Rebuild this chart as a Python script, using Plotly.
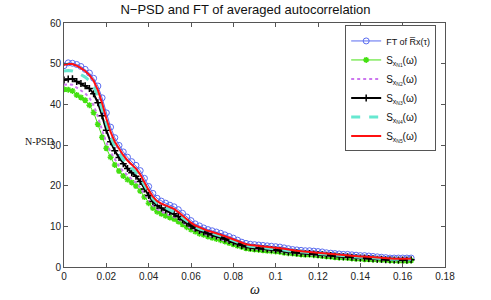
import plotly.graph_objects as go

omega = [round(i * 0.002, 3) for i in range(83)]

ft_rx = [49.5, 50.2, 50.1, 49.8, 49.3, 48.6, 47.7, 46.4, 44.5, 41.6, 37.9, 34.4, 31.8, 29.9, 28.3, 27.0, 25.9, 25.0, 23.7, 21.8, 19.8, 18.1, 16.9, 16.2, 15.7, 15.2, 14.8, 14.1, 13.2, 12.3, 11.4, 10.6, 10.1, 9.6, 9.2, 8.9, 8.6, 8.3, 7.9, 7.5, 7.1, 6.6, 6.1, 5.8, 5.6, 5.5, 5.4, 5.3, 5.2, 5.1, 5.0, 4.9, 4.7, 4.5, 4.3, 4.2, 4.1, 4.0, 4.0, 3.9, 3.8, 3.7, 3.5, 3.4, 3.3, 3.2, 3.1, 3.1, 3.0, 2.9, 2.8, 2.8, 2.7, 2.6, 2.5, 2.4, 2.3, 2.2, 2.2, 2.2, 2.2, 2.2, 2.2]
s_n1 = [43.7, 43.6, 43.3, 42.3, 41.7, 41.0, 39.8, 38.0, 35.1, 31.9, 29.2, 27.0, 25.1, 23.6, 22.4, 21.5, 20.8, 19.9, 18.7, 17.2, 15.7, 14.5, 13.6, 13.1, 12.6, 12.2, 11.8, 11.2, 10.5, 9.8, 9.2, 8.7, 8.2, 7.9, 7.5, 7.2, 6.9, 6.6, 6.3, 5.9, 5.6, 5.2, 4.9, 4.6, 4.4, 4.3, 4.2, 4.1, 4.0, 3.9, 3.8, 3.7, 3.5, 3.4, 3.3, 3.2, 3.1, 3.0, 3.0, 2.9, 2.8, 2.7, 2.6, 2.5, 2.4, 2.3, 2.3, 2.2, 2.1, 2.0, 2.0, 1.9, 1.9, 1.8, 1.8, 1.7, 1.7, 1.6, 1.6, 1.5, 1.5, 1.5, 1.6]
s_n2 = [44.8, 44.9, 44.8, 44.0, 43.4, 42.7, 41.6, 39.8, 37.0, 33.6, 30.6, 28.3, 26.4, 24.8, 23.5, 22.5, 21.6, 20.8, 19.5, 17.9, 16.4, 15.1, 14.2, 13.6, 13.1, 12.7, 12.3, 11.7, 10.9, 10.2, 9.5, 9.0, 8.5, 8.2, 7.8, 7.5, 7.2, 6.9, 6.6, 6.2, 5.8, 5.4, 5.1, 4.8, 4.6, 4.5, 4.4, 4.3, 4.2, 4.1, 4.0, 3.9, 3.7, 3.5, 3.4, 3.3, 3.2, 3.1, 3.1, 3.0, 2.9, 2.8, 2.7, 2.6, 2.5, 2.4, 2.4, 2.3, 2.2, 2.1, 2.1, 2.0, 2.0, 1.9, 1.8, 1.8, 1.7, 1.7, 1.6, 1.6, 1.6, 1.6, 1.7]
s_n3 = [46.0, 46.2, 46.3, 45.6, 45.1, 44.6, 43.9, 42.6, 40.4, 37.2, 33.6, 30.8, 28.6, 26.9, 25.4, 24.2, 23.2, 22.3, 21.0, 19.2, 17.6, 16.1, 15.1, 14.5, 14.0, 13.6, 13.1, 12.4, 11.6, 10.8, 10.1, 9.5, 9.0, 8.6, 8.2, 7.9, 7.6, 7.3, 6.9, 6.5, 6.1, 5.7, 5.3, 5.0, 4.8, 4.7, 4.6, 4.5, 4.4, 4.3, 4.2, 4.1, 3.9, 3.7, 3.6, 3.5, 3.4, 3.3, 3.3, 3.2, 3.1, 3.0, 2.9, 2.8, 2.7, 2.6, 2.5, 2.5, 2.4, 2.3, 2.2, 2.2, 2.1, 2.0, 1.9, 1.9, 1.8, 1.8, 1.7, 1.7, 1.7, 1.7, 1.8]
s_n4 = [48.2, 48.3, 48.2, 47.9, 47.3, 46.7, 45.8, 44.4, 42.2, 38.9, 35.1, 32.0, 29.7, 27.9, 26.4, 25.2, 24.2, 23.3, 22.0, 20.1, 18.3, 16.8, 15.7, 15.1, 14.6, 14.2, 13.7, 13.0, 12.1, 11.3, 10.5, 9.9, 9.4, 9.0, 8.6, 8.3, 8.0, 7.7, 7.3, 6.9, 6.5, 6.0, 5.6, 5.3, 5.1, 5.0, 4.9, 4.8, 4.7, 4.6, 4.5, 4.4, 4.2, 4.0, 3.9, 3.8, 3.7, 3.6, 3.6, 3.5, 3.4, 3.3, 3.1, 3.0, 2.9, 2.8, 2.7, 2.7, 2.6, 2.5, 2.4, 2.4, 2.3, 2.2, 2.1, 2.0, 2.0, 1.9, 1.9, 1.9, 1.9, 1.9, 1.9]
s_n5 = [49.7, 49.9, 49.9, 49.5, 48.9, 48.2, 47.2, 45.8, 43.5, 40.3, 36.5, 33.2, 30.8, 29.0, 27.5, 26.2, 25.1, 24.2, 22.8, 20.8, 18.9, 17.3, 16.2, 15.6, 15.1, 14.7, 14.3, 13.5, 12.6, 11.7, 10.9, 10.2, 9.7, 9.3, 8.9, 8.6, 8.3, 8.0, 7.6, 7.2, 6.8, 6.3, 5.9, 5.6, 5.4, 5.3, 5.2, 5.1, 5.0, 4.9, 4.8, 4.7, 4.5, 4.3, 4.1, 4.0, 3.9, 3.8, 3.8, 3.7, 3.6, 3.5, 3.3, 3.2, 3.1, 3.0, 2.9, 2.9, 2.8, 2.7, 2.6, 2.6, 2.5, 2.4, 2.3, 2.2, 2.1, 2.0, 2.0, 2.0, 2.0, 2.0, 2.0]

x_ticks = [0, 0.02, 0.04, 0.06, 0.08, 0.1, 0.12, 0.14, 0.16, 0.18]
x_tick_labels = ["0", "0.02", "0.04", "0.06", "0.08", "0.1", "0.12", "0.14", "0.16", "0.18"]
y_ticks = [0, 10, 20, 30, 40, 50, 60]

names = ["<span style=\"font-size:9px\">FT of R\u0305x(\u03c4)</span>",
         "S<sub>x<sub>N1</sub></sub>(\u03c9)",
         "S<sub>x<sub>N2</sub></sub>(\u03c9)",
         "S<sub>x<sub>N3</sub></sub>(\u03c9)",
         "S<sub>x<sub>N4</sub></sub>(\u03c9)",
         "S<sub>x<sub>N5</sub></sub>(\u03c9)"]

fig = go.Figure()
fig.add_trace(go.Scatter(x=omega, y=ft_rx, name=names[0], mode="lines+markers",
                         line=dict(color="#5a6cf0", width=1),
                         marker=dict(symbol="circle-open", size=6, color="#5a6cf0", line=dict(width=1))))
fig.add_trace(go.Scatter(x=omega, y=s_n1, name=names[1], mode="lines+markers",
                         line=dict(color="#44e011", width=1),
                         marker=dict(symbol="asterisk-open", size=5, color="#44e011", line=dict(width=1.5, color="#44e011"))))
fig.add_trace(go.Scatter(x=omega, y=s_n2, name=names[2], mode="lines",
                         line=dict(color="#cc77ee", width=2, dash="dot")))
fig.add_trace(go.Scatter(x=omega, y=s_n3, name=names[3], mode="lines+markers",
                         line=dict(color="#000000", width=2),
                         marker=dict(symbol="cross-thin-open", size=5, color="#000000", line=dict(width=1.5, color="#000000"))))
fig.add_trace(go.Scatter(x=omega, y=s_n4, name=names[4], mode="lines",
                         line=dict(color="#66e8d0", width=3, dash="dash")))
fig.add_trace(go.Scatter(x=omega, y=s_n5, name=names[5], mode="lines",
                         line=dict(color="#ff1010", width=2)))

axis_common = dict(showgrid=False, zeroline=False, showline=True, linecolor="#555555", linewidth=1,
                   mirror="ticks", ticks="inside", ticklen=4, tickcolor="#555555",
                   tickfont=dict(family="Liberation Sans, Arial", size=10, color="#222222"))

fig.update_layout(
    width=491, height=300,
    margin=dict(l=64, r=46, t=23, b=33),
    paper_bgcolor="white", plot_bgcolor="white",
    title=dict(text="N\u2212PSD and FT of averaged autocorrelation", x=0.5, xanchor="center",
               y=0.97, yanchor="middle", font=dict(family="Liberation Sans, Arial", size=13, color="#111111")),
    xaxis=dict(range=[0, 0.18], tickvals=x_ticks, ticktext=x_tick_labels, **axis_common),
    yaxis=dict(range=[0, 60], tickvals=y_ticks, **axis_common),
    legend=dict(x=0.738, y=0.99, xanchor="left", yanchor="top", bgcolor="white",
                bordercolor="#555555", borderwidth=1, tracegroupgap=0,
                font=dict(family="Liberation Sans, Arial", size=10, color="#111111")),
    showlegend=True,
)
fig.add_annotation(text="<i>\u03c9</i>", xref="paper", yref="paper", x=0.5, y=-0.094, yanchor="middle",
                   showarrow=False, font=dict(family="Liberation Serif, Times New Roman", size=14, color="#111111"))
fig.add_annotation(text="N-PSD", xref="paper", yref="paper", x=-0.063, y=0.516, xanchor="center", yanchor="middle",
                   showarrow=False, font=dict(family="Liberation Serif, Times New Roman", size=10, color="#111111"))

fig.write_html("out.html", config={"displayModeBar": False},
               post_script="document.body.style.margin='0';")
